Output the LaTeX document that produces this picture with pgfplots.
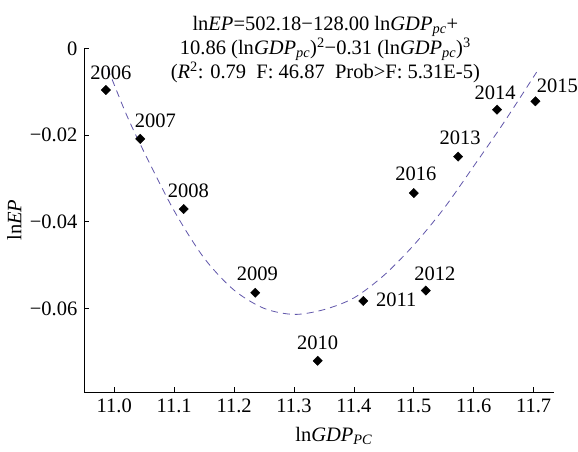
\documentclass[border=0pt]{standalone}
\usepackage{fontspec}
\setmainfont{Liberation Serif}
\usepackage{pgfplots}
\usepackage{pgfplotstable}
\pgfplotsset{compat=1.18}
\definecolor{fitc}{RGB}{96,86,170}

\pgfplotstableread{
x y lab dx dy
10.986 -0.00962 2006 5 17.5
11.0434 -0.0209 2007 15 18
11.1159 -0.0371 2008 4.6 18
11.2354 -0.0564 2009 2 18.5
11.3396 -0.0721 2010 0 18.5
11.4157 -0.0583 2011 33 1
11.520 -0.0559 2012 9 17
11.574 -0.0250 2013 2 19
11.639 -0.01416 2014 -2 17
11.703 -0.01223 2015 22 15.5
11.500 -0.0334 2016 2 19
}\pts

\begin{document}
\fontsize{20.5}{24}\selectfont
\begin{tikzpicture}
\begin{axis}[
  scale only axis,
  width=470.1pt, height=343.7pt,
  xmin=10.95, xmax=11.7347,
  ymin=-0.0793, ymax=0,
  axis x line*=bottom, axis y line*=left,
  axis line style={line width=0.9pt},
  tick align=inside,
  major tick length=5pt,
  tick style={line width=0.7pt, black},
  scaled y ticks=false, scaled x ticks=false,
  xtick={11.0,11.1,11.2,11.3,11.4,11.5,11.6,11.7},
  xticklabels={11.0,11.1,11.2,11.3,11.4,11.5,11.6,11.7},
  ytick={-0.06,-0.04,-0.02,0},
  yticklabels={−0.06,−0.04,−0.02,0},
  minor tick num=0,
  clip=false,
  xlabel={ln\textit{GDP}\textsubscript{\textit{PC}}},
  ylabel={ln\textit{EP}},
  every axis x label/.style={at={(axis description cs:0.531,0)}, anchor=base, yshift=-49.5pt},
  every axis y label/.style={at={(axis description cs:-0.149,0.5)}, rotate=90, anchor=center},
]
\addplot[fitc, line width=0.8pt, dash pattern=on 7pt off 5pt, smooth] coordinates {
(10.989,-0.0046) (11.02,-0.0152) (11.05,-0.0240) (11.10,-0.0375) (11.15,-0.0484)
(11.20,-0.0558) (11.25,-0.0600) (11.30,-0.0614) (11.35,-0.0603) (11.40,-0.0576)
(11.45,-0.0524) (11.50,-0.0454) (11.55,-0.0370) (11.60,-0.0272) (11.65,-0.0172)
(11.705,-0.0055)
};
\addplot[only marks, mark=square*, mark size=3.3pt,
  mark options={rotate=45, fill=black, draw=black},
  point meta=explicit symbolic,
  visualization depends on={\thisrow{dx}\as\dx},
  visualization depends on={\thisrow{dy}\as\dy},
  nodes near coords,
  nodes near coords align={anchor=center},
  every node near coord/.append style={anchor=center, inner sep=0pt, xshift=\dx pt, yshift=\dy pt, black, font=\fontsize{20.5}{24}\selectfont},
] table[x=x, y=y, meta=lab] {\pts};
\node[align=center, anchor=north, inner sep=0pt, xshift=6pt, yshift=32.3pt,
  font=\fontsize{20.5}{21.5}\selectfont] at (rel axis cs:0.5,1)
  {ln\textit{EP}=502.18−128.00 ln\textit{GDP}\textsubscript{\textit{pc}}+\\
   10.86 (ln\textit{GDP}\textsubscript{\textit{pc}})\textsuperscript{2}−0.31 (ln\textit{GDP}\textsubscript{\textit{pc}})\textsuperscript{3}\\
   (\textit{R}\textsuperscript{2}: 0.79~~F: 46.87~~Prob>F: 5.31E-5)};
\path (rel axis cs:0,0) ++(-84.3pt,-54pt) coordinate (bl);
\path (rel axis cs:1,1) ++(23.6pt,48.3pt) coordinate (tr);
\path (bl) rectangle (tr);
\end{axis}
\end{tikzpicture}
\end{document}
